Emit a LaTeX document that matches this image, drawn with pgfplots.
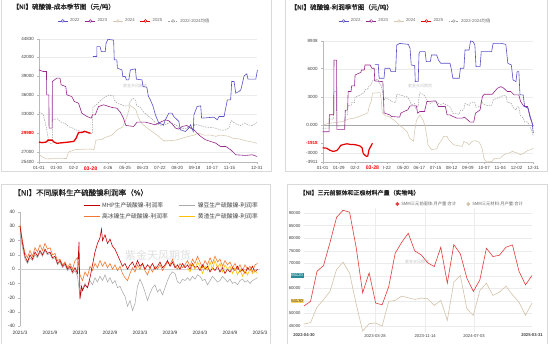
\documentclass[border=0pt]{standalone}
\usepackage{pgfplots}
\pgfplotsset{compat=1.18}
\usepackage{fontspec}
\setmainfont{Liberation Sans}
\newfontfamily\cjk{Noto Sans CJK SC}
\newfontfamily\cjkb[FakeBold=1.2]{Noto Sans CJK SC}
\newcommand\fs[1]{\fontsize{#1}{#1}\selectfont}
\definecolor{c22}{RGB}{88,80,200}
\definecolor{c23}{RGB}{150,40,140}
\definecolor{c24}{RGB}{214,200,176}
\definecolor{c25}{RGB}{230,0,0}
\definecolor{cavg}{RGB}{160,160,160}
\definecolor{mhp}{RGB}{192,0,0}
\definecolor{nb}{RGB}{170,170,170}
\definecolor{hmn}{RGB}{240,120,50}
\definecolor{yz}{RGB}{255,192,0}
\definecolor{p4r}{RGB}{225,60,60}
\definecolor{p4b}{RGB}{210,195,170}
\definecolor{tealbox}{RGB}{40,140,150}
\definecolor{yelbox}{RGB}{255,215,90}
\pgfplotsset{
  base/.style={scale only axis, anchor=south west, clip=false,
    scaled ticks=false,
    /pgf/number format/assume math mode=true,
    axis x line*=bottom, axis y line*=left,
    axis line style={gray!55, line width=0.4pt},
    tick style={gray!55, line width=0.35pt},
    major tick length=1.6pt, tick align=outside,
    tick label style={font=\fs{4.5}, text=black!75},
    xticklabel style={yshift=1pt},
    ymajorgrids, major grid style={gray!15, line width=0.3pt},
    legend style={draw=none, fill=none, font=\fs{4.3}, text=black!60,
      inner sep=0pt, /tikz/every even column/.append style={column sep=3.5pt}},
    legend cell align=left},
  cleg/.style={legend image code/.code={\draw[##1] (0pt,0pt) -- (10pt,0pt);
      \draw[##1,solid,fill=white] (5pt,0pt) circle (1.4pt);}},
  lleg/.style={legend image code/.code={\draw[##1] (0pt,0pt) -- (16pt,0pt);}},
  dleg/.style={legend image code/.code={\fill[##1] (3pt,0pt) circle (1.8pt);}},
  avgdash/.style={dash pattern=on 1.5pt off 1pt},
}
\begin{document}
\begin{tikzpicture}[x=1pt,y=1pt]
\path[use as bounding box, fill=white] (0,0) rectangle (550,344);
\draw[gray!30, line width=0.6] (1,173) rectangle (271,346);
\draw[gray!30, line width=0.6] (285,173) rectangle (547,346);
\draw[gray!30, line width=0.6] (1,-2) rectangle (270,160);
\draw[gray!30, line width=0.6] (287,-2) rectangle (547,160);
\node[anchor=west, font=\cjkb\fs{6.5}, text=black!85] at (9,337) {【NI】硫酸镍-成本季节图（元/吨）};
\node[anchor=west, font=\cjkb\fs{6.5}, text=black!85] at (287,336.5) {【NI】硫酸镍-利润季节图（元/吨）};
\node[anchor=west, font=\cjkb\fs{7.5}, text=black!85] at (10,151.3) {【NI】不同原料生产硫酸镍利润率（\%）};
\node[anchor=west, font=\cjkb\fs{6}, text=black!85] at (296,151.3) {【NI】三元前驱体和正极材料产量（实物吨）};
\node[font=\cjk\fs{4}, text=gray!45] at (135,258) {紫金天风期货};
\node[font=\cjk\fs{4}, text=gray!45] at (420,258) {紫金天风期货};
\node[font=\cjk\fs{4}, text=gray!45] at (417,82) {紫金天风期货};
\node[font=\cjk\fs{11}, text=gray!25] at (158,89) {紫金天风期货};

% ---------------- Panel 1
\begin{axis}[base, at={(39pt,181.7pt)}, width=218pt, height=123pt,
  xmin=0, xmax=364, ymin=25400, ymax=44830,
  xtick={0,29,58,86,115,144,173,202,231,260,289,318,364},
  xticklabels={01-01,01-30,02-2,{\textcolor{red}{\bfseries\fs{5.2}03-28}},4-26,05-25,06-23,07-22,08-20,09-18,10-17,11-15,12-31},
  ytick={25400,27000,33000,36000,39000,42000,44830},
  yticklabels={25400,27000,33000,36000,39000,42000,44830},
  extra y ticks={29980}, extra y tick labels={\textcolor{red}{\bfseries 29980}},
  extra y tick style={grid=none},
  legend style={at={(0.438,1.149)}, anchor=center}, legend columns=5]
\addlegendimage{c22,line width=0.5pt,cleg}\addlegendentry{2022}
\addlegendimage{c23,line width=0.5pt,cleg}\addlegendentry{2023}
\addlegendimage{c24,line width=0.5pt,cleg}\addlegendentry{2024}
\addlegendimage{c25,line width=0.5pt,cleg}\addlegendentry{2025}
\addlegendimage{cavg,line width=0.5pt,avgdash,cleg}\addlegendentry{2022-2024{\cjk 均值}}
\addplot[cavg, line width=0.5pt, avgdash, forget plot] coordinates {
(0,33300)(7,33000)(12,31000)(17,28400)(22,28400)(23,32100)(30,32300)(36,31800)(44,31500)(50,31000)(56,30800)(62,30500)(70,30300)(78,30100)(86,30000)(89,29900)(90,34100)(97,34600)(104,35300)(112,35800)(116,36000)(124,35900)(126,35200)(131,34700)(138,34500)(142,34300)(150,34300)(152,35000)(157,35500)(161,35200)(163,34400)(170,34000)(174,33400)(182,32700)(188,32300)(195,31600)(200,31300)(208,31200)(212,31400)(218,31700)(224,31500)(230,31200)(236,30700)(245,30700)(250,31000)(258,30700)(260,31400)(265,31300)(270,31200)(275,31000)(287,30900)(295,30800)(303,30500)(311,30500)(317,30800)(321,32000)(328,31500)(336,31200)(343,31600)(349,31300)(356,31200)(364,31700)};
\addplot[c24, line width=0.55pt, forget plot] coordinates {
(0,26600)(5,26300)(12,25950)(46,26000)(49,27000)(60,27400)(85,27500)(92,27400)(95,28900)(105,29000)(110,29300)(122,29700)(130,30500)(140,31000)(147,32600)(152,34400)(158,34000)(162,33600)(165,32700)(170,31700)(178,31000)(188,30300)(197,29700)(203,29200)(208,28800)(217,28800)(228,28900)(239,29200)(250,29500)(259,29700)(267,30000)(275,29700)(287,29700)(295,29500)(303,29700)(317,29500)(323,29200)(334,29100)(345,28800)(356,28600)(364,28400)};
\addplot[c23, line width=0.6pt, forget plot] coordinates {
(0,40000)(7,39740)(12.5,39740)(12.8,36060)(16.5,36060)(16.8,30800)(22,30800)(22.3,38160)(29.6,38690)(35,38690)(37,37630)(44.7,37370)(46.4,36060)(54.7,35790)(59,35000)(66,34740)(71.5,33160)(80,32640)(87,32370)(89.4,32900)(94,32900)(99.4,34210)(108,34480)(121.8,34060)(130,33950)(135.7,33320)(141,32370)(145,31220)(158,31060)(163.7,31740)(178,31740)(194,31320)(203,31740)(211,32110)(217,31950)(221,31590)(228,30800)(233.5,30640)(239,31060)(247,31210)(253,30800)(258.7,30530)(264,30010)(270,29480)(278,28960)(286.6,28690)(295,28430)(303,27900)(311.7,27900)(320,27380)(325.7,26850)(328.5,26590)(345,26480)(356,26590)(364,26320)};
\addplot[c22, line width=0.6pt, forget plot] coordinates {
(90,42105)(96.5,42105)(96.6,43680)(102,43680)(104,42890)(110.6,42890)(112,44210)(115,44830)(124.6,44700)(125.7,41580)(130,41580)(131,40260)(138.5,40000)(140,38950)(144,38950)(146,38420)(150,38420)(152.5,40000)(161,40160)(162.6,38530)(172,38420)(173.7,37370)(180,37270)(182.7,35790)(186,35270)(190.5,34210)(194.4,32900)(200,31590)(208,31320)(211,32110)(216.8,33160)(222,33160)(225,32640)(233.5,31850)(236,30530)(244.7,30270)(250,30800)(253,31320)(257.5,30270)(258.7,32900)(264,34210)(270,34320)(271.5,32370)(292,32530)(297.8,32110)(300.6,32640)(309,32640)(314.5,35270)(320,35270)(321.8,38160)(325.7,38160)(328.5,36320)(334,36580)(337,36840)(342.5,39050)(347,39370)(349,38530)(362,38530)(364.8,40000)};
\addplot[c25, line width=1.3pt, forget plot] coordinates {
(0,28600)(5,28500)(12,28600)(15,28900)(22,28900)(25,28600)(30,28400)(40,28500)(50,28600)(58,28700)(62,29200)(66,30100)(72,30100)(76,30300)(82,30100)(86,29980)};
\end{axis}

% ---------------- Panel 2
\begin{axis}[base, at={(322.7pt,182pt)}, width=210.6pt, height=121pt,
  xmin=0, xmax=364, ymin=-3911, ymax=8938,
  xtick={0,28,56,86,111,139,167,195,223,251,279,307,335,364},
  xticklabels={01-01,01-29,02-2,{\textcolor{red}{\bfseries\fs{5.2}03-28}},I-22,05-20,06-17,07-15,08-12,09-09,10-07,11-04,12-02,12-31},
  ytick={-3911,-3000,0,3000,6000,8938},
  yticklabels={-3911,-3000,0.000,3000,6000,8938},
  extra y ticks={-1918}, extra y tick labels={\textcolor{red}{\bfseries -1918}},
  extra y tick style={grid=none},
  legend style={at={(0.44,1.165)}, anchor=center}, legend columns=5]
\addlegendimage{c22,line width=0.5pt,cleg}\addlegendentry{2022}
\addlegendimage{c23,line width=0.5pt,cleg}\addlegendentry{2023}
\addlegendimage{c24,line width=0.5pt,cleg}\addlegendentry{2024}
\addlegendimage{c25,line width=0.5pt,cleg}\addlegendentry{2025}
\addlegendimage{cavg,line width=0.5pt,avgdash,cleg}\addlegendentry{2022-2024{\cjk 均值}}
\addplot[gray!70, line width=0.4pt, forget plot] coordinates {(0,0)(364,0)};
\addplot[cavg, line width=0.5pt, avgdash, forget plot] coordinates {
(0,-350)(11,-300)(11.5,650)(19,650)(19.5,3570)(24,3570)(24.5,-100)(38,-50)(39,1100)(43,1100)(44,2100)(49,2100)(50,2400)(55,2400)(56,3000)(66,3200)(67,3350)(72,3450)(73,3750)(78,3850)(80,4150)(84,4300)(86,4700)(89,4700)(90,4850)(96,4850)(98,4400)(101,4200)(103,3700)(106,2600)(108,2900)(116,2700)(119,2500)(126,2400)(128,3300)(134,3200)(139,3100)(146,3000)(150,2700)(153,2200)(157,2200)(159,2300)(160,1800)(165,2000)(166.5,3000)(168,3450)(174,3250)(177,3050)(180,2700)(186,2300)(188,2450)(197,2500)(200,2300)(204,2200)(209,2300)(215,2100)(220,1950)(222,1700)(225,1250)(232,1200)(236,1150)(238,1550)(241,1550)(244,1700)(246,2300)(250,2200)(253,2050)(255,2350)(260,2450)(263,2400)(265,1900)(272,2000)(274,2600)(276,2400)(279,2200)(284,2100)(292,2100)(295,2700)(302,2850)(308,3050)(313,3150)(317,3100)(319,2400)(322,2400)(326,2300)(328,2000)(331,1750)(334,1600)(336,1950)(339,1950)(341,1200)(342,1000)(347,750)(349,330)(354,360)(358,-150)(362,-750)(364,-1130)};
\addplot[c24, line width=0.55pt, forget plot] coordinates {
(0,0)(10,200)(25,300)(35,400)(45,650)(55,750)(60,850)(70,1100)(78,1300)(80,1900)(84,2600)(86,3400)(99,3460)(101,2800)(103,1300)(108,1000)(115,900)(122,600)(128,280)(134,-70)(139,-320)(146,-700)(150,-1380)(154,-1550)(157,-1700)(159,-600)(162,500)(168,1090)(174,460)(177,-140)(180,-1200)(182,-2080)(188,-2610)(197,-2510)(200,-2080)(206,-1550)(209,-1200)(215,-1200)(218,-1550)(221,-1730)(226,-2080)(232,-2150)(241,-2260)(244,-1730)(250,-1900)(253,-2080)(258,-1730)(264,-1650)(270,-1800)(273,-2080)(276,-2610)(278.5,-3490)(281,-3750)(284,-3900)(293,-3850)(296,-3570)(307,-3500)(313,-3140)(322,-2960)(328,-2790)(336,-2960)(342,-3140)(348,-2960)(354,-2700)(360,-2600)(364,-2440)};
\addplot[c23, line width=0.6pt, forget plot] coordinates {
(0,-700)(11,-700)(11.5,1100)(19,1100)(19.5,6900)(24,6900)(24.5,-450)(38,-450)(39,1600)(43,1600)(44,3570)(49,3570)(50,4170)(55,4170)(56,5330)(66,5600)(67,5860)(72,5860)(73,6390)(82,6390)(85,6040)(89,6040)(90,4700)(104,4620)(106,1300)(116,1090)(119,920)(133,850)(135,1270)(140,1440)(147,1620)(151,2050)(162,2050)(164,1270)(168,1450)(176,1450)(180,2510)(195,2580)(200,1980)(212,1980)(215,1090)(220,1090)(225,920)(232,740)(241,740)(245,850)(255,320)(261,320)(264,1270)(272,1620)(276,3040)(279,3280)(293,3280)(296,3490)(302,3920)(308,4090)(313,3920)(319,3570)(325,3570)(331,3210)(339,3210)(342,2510)(348,1980)(354,1980)(358,920)(362,210)(364,-100)};
\addplot[c22, line width=0.6pt, forget plot] coordinates {
(90,6460)(96,6460)(97.5,4980)(106,4980)(107.5,6040)(116,6040)(118,5680)(126,5680)(128,8510)(133,8680)(148,8580)(151,8150)(153,6390)(159,6320)(160,4620)(165,4620)(166.5,7620)(168,7800)(177,7800)(179,6740)(186,6740)(188,7450)(197,7450)(200,6920)(204,6570)(220,6570)(222,6040)(225,4980)(236,4980)(238,6040)(244,6040)(246,7980)(253,7980)(255.5,8938)(260,8860)(263,8510)(265,6210)(272,6210)(274,7800)(292,7800)(294.5,8680)(309,8680)(316.5,8580)(320,6570)(326,6390)(329,4800)(334,4620)(336,5680)(339,5680)(341,3210)(346.5,3210)(349,1980)(355,1800)(358,1090)(362,210)(364,-850)};
\addplot[c25, line width=1.2pt, forget plot] coordinates {
(0,-2400)(7,-2450)(12,-2650)(18,-2790)(24,-2700)(28,-2450)(31,-2150)(36,-2050)(42,-1980)(48,-2050)(53,-2050)(58,-2100)(64,-2200)(68,-2400)(70,-3000)(73,-3200)(76,-3320)(78,-3250)(80,-2600)(84,-2150)(86,-1918)};
\end{axis}

% ---------------- Panel 3
\begin{axis}[base, at={(20pt,17.7pt)}, width=240pt, height=114.3pt,
  xmin=0, xmax=48, ymin=-40, ymax=40, ymajorgrids=false,
  xtick={0,6,...,48},
  xticklabels={2021/3,2021/9,2022/3,2022/9,2023/3,2023/9,2024/3,2024/9,2025/3},
  ytick={-40,-30,...,40},
  x axis line style={draw=none}, xtick style={draw=none},
  tick label style={font=\fs{4.8}, text=black!80},
  xticklabel style={yshift=-1pt},
  legend style={at={(0.2625,1.105)}, anchor=north west, font=\cjk\fs{5.8}, text=black!75,
    /tikz/every even column/.append style={column sep=9pt}, row sep=1pt},
  legend columns=2]
\addlegendimage{mhp,line width=0.9pt,lleg}\addlegendentry{MHP生产硫酸镍-利润率}
\addlegendimage{nb,line width=0.9pt,lleg}\addlegendentry{镍豆生产硫酸镍-利润率}
\addlegendimage{hmn,line width=0.9pt,lleg}\addlegendentry{高冰镍生产硫酸镍-利润率}
\addlegendimage{yz,line width=0.9pt,lleg}\addlegendentry{黄渣生产硫酸镍-利润率}
\addplot[gray!35, line width=0.4pt, forget plot] coordinates {(0,0)(48,0)};
\addplot[nb, line width=0.55pt, forget plot] coordinates {
(0,25)(0.5,15)(1,7)(1.5,4)(2,8)(2.5,6)(3,10)(3.5,8)(4,12)(4.5,9)(5,13)(5.5,10)(6,11)(6.5,7)(7,8)(7.5,3)(8,5)(8.5,1)(9,3)(9.5,-1)(10,1)(10.5,-3)(11,-1)(11.5,-5)(12,-19)(12.5,-14)(13,-10)(13.5,-13)(14,-8)(14.5,-11)(15,-6)(15.5,-9)(16,-5)(16.5,-8)(17,-4)(17.5,-9)(18,-6)(18.5,-10)(19,-8)(19.5,-13)(20,-12)(20.5,-16)(21,-19)(21.5,-26)(22,-22)(22.5,-29)(23,-24)(23.5,-12)(24,-7)(24.5,-11)(25,-16)(25.5,-22)(26,-17)(26.5,-13)(27,-11)(27.5,-16)(28,-14)(28.5,-18)(29,-13)(29.5,-8)(30,-4)(30.5,-2)(31,-3)(31.5,-9)(32,-10)(32.5,-7)(33,-8)(33.5,-6)(34,-8)(34.5,-5)(35,-7)(35.5,-4)(36,-5)(36.5,-8)(37,-7)(37.5,-11)(38,-8)(38.5,-5)(39,-7)(39.5,-9)(40,-8)(40.5,-5)(41,-7)(41.5,-9)(42,-7)(42.5,-10)(43,-9)(43.5,-11)(44,-8)(44.5,-7)(45,-9)(45.5,-8)(46,-10)(46.5,-8)(47,-7)(47.5,-6)};
\addplot[hmn, line width=0.6pt, forget plot] coordinates {
(0,31)(0.5,20)(1,11)(1.5,8)(2,13)(2.5,9)(3,15)(3.5,12)(4,17)(4.5,13)(5,18)(5.5,14)(6,15)(6.5,10)(7,11)(7.5,6)(8,7)(8.5,3)(9,5)(9.5,1)(10,4)(10.5,0)(11,6)(11.5,8)(12,-4)(12.5,-8)(13,-2)(13.5,-5)(14,2)(14.5,-1)(15,4)(15.5,1)(16,6)(16.5,2)(17,5)(17.5,1)(18,4)(18.5,0)(19,3)(19.5,-1)(20,2)(20.5,-3)(21,-6)(21.5,-8)(22,-3)(22.5,1)(23,-2)(23.5,3)(24,0)(24.5,4)(25,-1)(25.5,-4)(26,1)(26.5,-2)(27,2)(27.5,0)(28,3)(28.5,-1)(29,2)(29.5,5)(30,3)(30.5,7)(31,2)(31.5,0)(32,4)(32.5,1)(33,3)(33.5,6)(34,2)(34.5,7)(35,4)(35.5,9)(36,5)(36.5,1)(37,6)(37.5,3)(38,8)(38.5,4)(39,9)(39.5,5)(40,7)(40.5,2)(41,6)(41.5,3)(42,5)(42.5,1)(43,4)(43.5,0)(44,3)(44.5,-1)(45,3)(45.5,0)(46,2)(46.5,-2)(47,3)(47.5,4)};
\addplot[mhp, line width=0.6pt, forget plot] coordinates {
(0,30)(0.5,18)(1,9)(1.5,5)(2,10)(2.5,7)(3,12)(3.5,9)(4,13)(4.5,10)(5,14)(5.5,11)(6,12)(6.5,8)(7,9)(7.5,4)(8,6)(8.5,2)(9,4)(9.5,0)(10,2)(10.5,-2)(11,1)(11.5,-3)(11.8,19)(12,-21)(12.3,-12)(12.5,-15)(13,-11)(13.5,-13)(14,-6)(14.5,3)(15,12)(15.5,18)(16,22)(16.3,28)(16.5,20)(17,24)(17.5,18)(18,21)(18.5,16)(19,14)(19.5,10)(20,6)(20.5,2)(21,4)(21.5,0)(22,3)(22.5,5)(23,1)(23.5,6)(24,2)(24.5,4)(25,0)(25.5,3)(26,1)(26.5,4)(27,0)(27.5,2)(28,5)(28.5,1)(29,3)(29.5,6)(30,2)(30.5,5)(31,1)(31.5,3)(32,0)(32.5,4)(33,1)(33.5,3)(34,0)(34.5,4)(35,1)(35.5,2)(36,-1)(36.5,3)(37,0)(37.5,2)(38,-2)(38.5,1)(39,-1)(39.5,2)(40,-2)(40.5,1)(41,-3)(41.5,0)(42,-2)(42.5,1)(43,-1)(43.5,2)(44,-2)(44.5,0)(45,-3)(45.5,1)(46,-1)(46.5,2)(47,-2)(47.5,0)};
\addplot[yz, line width=0.6pt, forget plot] coordinates {
(33.5,1)(34,-2)(34.5,3)(35,0)(35.5,5)(36,2)(36.5,-3)(37,2)(37.5,-1)(38,5)(38.5,0)(39,6)(39.5,1)(40,4)(40.5,-2)(41,3)(41.5,0)(42,2)(42.5,-3)(43,1)(43.5,-4)(44,0)(44.5,-5)(45,-1)(45.5,-4)(46,0)(46.5,-3)(47,-1)(47.5,-3)};
\end{axis}

% ---------------- Panel 4
\begin{axis}[base, at={(304pt,11.7pt)}, width=228pt, height=124.3pt,
  xmin=0, xmax=35, ymin=42500, ymax=92000,
  axis line style={draw=none}, major tick length=0pt,
  xmajorgrids,
  xtick={10.9,18.6,26.1},
  xticklabels={2023-03-28,2023-11-14,2024-07-03},
  extra x ticks={0,35},
  extra x tick labels={\textbf{2022-04-30},\textbf{2025-03-31}},
  extra x tick style={grid=none, xticklabel style={yshift=1.5pt}},
  ytick={45000,50000,...,90000},
  yticklabels={45000,50000,,60000,,70000,75000,80000,85000,90000},
  tick label style={font=\fs{4.2}, text=black!75},
  legend style={at={(0.40,1.032)}, anchor=west, font=\cjk\fs{4.3},
    /tikz/every even column/.append style={column sep=8pt}},
  legend columns=2]
\addlegendimage{p4r,dleg}\addlegendentry{SMM三元前驱体:月产量:合计}
\addlegendimage{p4b,dleg}\addlegendentry{SMM三元材料:月产量:合计}
\addplot[p4r, line width=0.6pt, forget plot] coordinates {
(0,53000)(1,54800)(2,66800)(3,69100)(4,78350)(5,88280)(6,91100)(7,90300)(8,76400)(9,58240)(10,66180)(11,54130)(12,53470)(13,60620)(14,73990)(15,78350)(16,81930)(17,74910)(18,73320)(19,70150)(20,68690)(21,76370)(22,62070)(23,77430)(24,73720)(25,64060)(26,58770)(27,63400)(28,75970)(29,72660)(30,73190)(31,76370)(32,77300)(33,66840)(34,61410)(35,65120)};
\addplot[p4b, line width=0.6pt, forget plot] coordinates {
(0,45800)(1,46330)(2,52550)(3,55460)(4,58900)(5,67500)(6,70410)(7,66050)(8,53870)(9,43000)(10,45930)(11,46200)(12,45000)(13,54800)(14,55200)(15,56900)(16,56250)(17,55600)(18,56100)(19,55850)(20,53200)(21,55200)(22,47250)(23,62470)(24,65120)(25,51880)(26,49240)(27,59160)(28,62070)(29,57180)(30,58500)(31,60880)(32,57440)(33,54530)(34,49240)(35,54130)};
\node[fill=tealbox, text=white, font=\fs{4.2}, inner sep=0.8pt, anchor=east] at (axis cs:0,65120) {65120};
\node[fill=yelbox, text=black!80, font=\fs{4.2}, inner sep=0.8pt, anchor=east] at (axis cs:0,55000) {54130};
\end{axis}
\end{tikzpicture}
\end{document}
